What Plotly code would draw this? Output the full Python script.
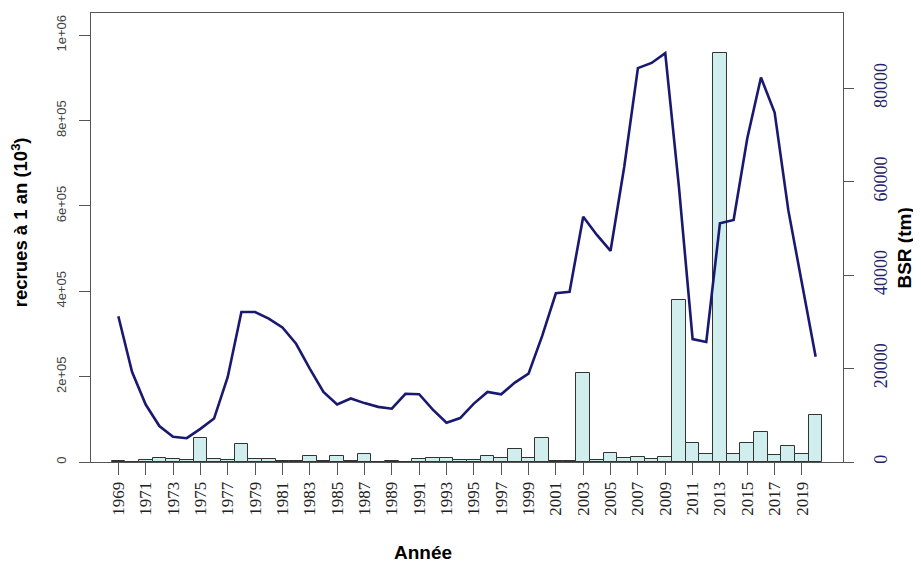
import plotly.graph_objects as go

years = list(range(1969, 2021))

recrues = [3000, 0, 4700, 9400, 6200, 5500, 57000, 6200, 4700, 41400,
           7800, 6200, 1500, 1500, 13300, 2300, 14000, 1500, 19500, 800,
           2300, 800, 7000, 10000, 9400, 5500, 5500, 13300, 9400, 29700,
           10000, 57000, 2300, 2300, 209500, 5500, 21900, 10000, 11700, 6200,
           11700, 379000, 43800, 18000, 957600, 18800, 43800, 69600, 17200, 37500,
           18800, 111000]

bsr = [31200, 19300, 12300, 7700, 5400, 5100, 7100, 9300, 18200, 32100,
       32100, 30700, 28800, 25300, 20000, 15000, 12300, 13600, 12600, 11800,
       11400, 14600, 14500, 11200, 8400, 9400, 12500, 15000, 14500, 17000,
       18900, 27000, 36100, 36400, 52500, 48600, 45200, 63200, 84300, 85400,
       87500, 58900, 26300, 25700, 51100, 51800, 69300, 82300, 74800, 53900,
       38200, 22500]

year_ticks = list(range(1969, 2020, 2))
year_labels = [str(y) for y in year_ticks]
left_ticks = [0, 200000, 400000, 600000, 800000, 1000000]
left_labels = ["0", "2e+05", "4e+05", "6e+05", "8e+05", "1e+06"]
right_ticks = [0, 20000, 40000, 60000, 80000]
right_labels = ["0", "20000", "40000", "60000", "80000"]

fig = go.Figure()
fig.add_trace(go.Bar(
    x=years, y=recrues, width=1.0,
    marker=dict(color="#D1EEEE", line=dict(color="#333333", width=1)),
    yaxis="y", showlegend=False))
fig.add_trace(go.Scatter(
    x=years, y=bsr, mode="lines", yaxis="y2",
    line=dict(color="#191970", width=2.6), showlegend=False))

axis_col = "#555555"
fig.update_layout(
    width=913, height=557,
    margin=dict(l=83, r=78, t=5, b=103),
    paper_bgcolor="white", plot_bgcolor="white",
    bargap=0,
    xaxis=dict(range=[1967, 2022], tickmode="array", tickvals=year_ticks,
               ticktext=year_labels, tickangle=-90,
               tickfont=dict(family="Liberation Serif", size=17, color="#222222"),
               ticks="outside", ticklen=12, tickcolor=axis_col, tickwidth=1,
               showline=True, linecolor=axis_col, linewidth=1, mirror=True,
               showgrid=False, zeroline=False),
    yaxis=dict(range=[0, 1052000], tickmode="array", tickvals=left_ticks,
               ticktext=left_labels, tickangle=-90,
               tickfont=dict(family="Liberation Sans", size=13, color="#444444"),
               ticks="outside", ticklen=11, tickcolor=axis_col,
               showline=True, linecolor=axis_col, linewidth=1,
               showgrid=False, zeroline=False, ticklabelstandoff=8),
    yaxis2=dict(range=[0, 96090], overlaying="y", side="right",
                tickmode="array", tickvals=right_ticks, ticktext=right_labels,
                tickangle=-90,
                tickfont=dict(family="Liberation Serif", size=18, color="#23236b"),
                ticks="outside", ticklen=10, tickcolor=axis_col,
                showline=True, linecolor=axis_col, linewidth=1,
                showgrid=False, zeroline=False, ticklabelstandoff=11),
    annotations=[
        dict(text="recrues à 1 an (10<sup>3</sup>)", xref="paper", yref="paper",
             x=-0.0945, y=0.534, textangle=-90, showarrow=False,
             xanchor="center", yanchor="middle",
             font=dict(family="Liberation Sans", size=18.5, color="black", weight="bold")),
        dict(text="BSR (tm)", xref="paper", yref="paper",
             x=1.0815, y=0.476, textangle=-90, showarrow=False,
             xanchor="center", yanchor="middle",
             font=dict(family="Liberation Sans", size=19, color="black", weight="bold")),
        dict(text="Année", xref="paper", yref="paper",
             x=0.4415, y=-0.201, showarrow=False,
             xanchor="center", yanchor="middle",
             font=dict(family="Liberation Sans", size=19, color="black", weight="bold")),
    ],
)

fig.write_html("out.html")
